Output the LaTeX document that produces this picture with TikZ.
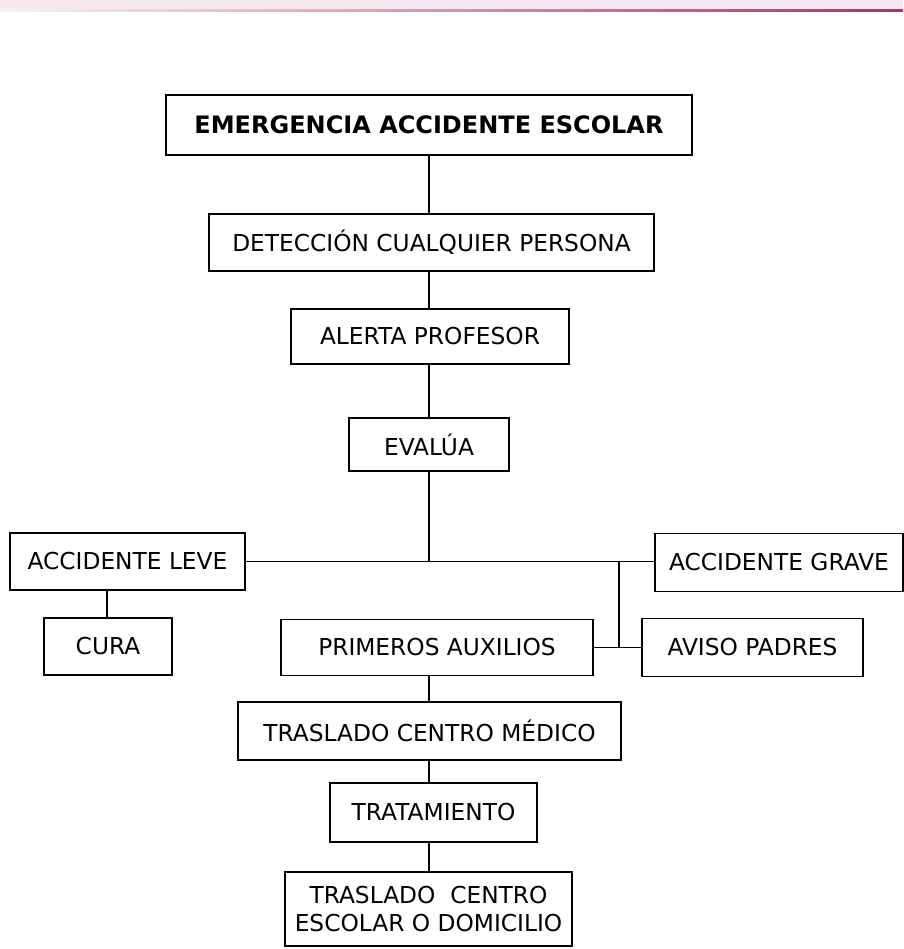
\documentclass[tikz,border=0pt]{standalone}
\usepackage{fontspec}
\setmainfont{DejaVu Sans}
\begin{document}
\begin{tikzpicture}[x=1pt,y=-1pt,
  box/.style={draw=black,line width=1.6pt,rectangle,inner sep=0pt,align=center,
    font=\fontsize{23.3}{28}\selectfont},
  conn/.style={draw=black,line width=1.6pt}]
\useasboundingbox (0,0) rectangle (903,949);
% top band
\fill[fill={rgb,255:red,246;green,234;blue,240}] (0,0) rectangle (903,10);
\shade[left color={rgb,255:red,250;green,240;blue,245},right color={rgb,255:red,160;green,56;blue,106}] (0,9.5) rectangle (903,11.5);
% nodes
\node[box,minimum width=526pt,minimum height=60pt,font=\fontsize{24}{28}\selectfont\bfseries] (emerg) at (429,125) {EMERGENCIA ACCIDENTE ESCOLAR};
\node[box,minimum width=445pt,minimum height=57pt] (detec) at (431.5,242.5) {DETECCIÓN CUALQUIER PERSONA};
\node[box,minimum width=278pt,minimum height=55pt] (alerta) at (430,336.5) {ALERTA PROFESOR};
\node[box,minimum width=160pt,minimum height=53pt] (eval) at (429,444.5) {EVALÚA};
\node[box,minimum width=235pt,minimum height=57pt] (leve) at (127.5,561.5) {ACCIDENTE LEVE};
\node[box,minimum width=128pt,minimum height=57pt] (cura) at (108,646.5) {CURA};
\node[box,minimum width=248pt,minimum height=58pt] (grave) at (779,562.5) {ACCIDENTE GRAVE};
\node[box,minimum width=312pt,minimum height=56pt] (prim) at (437,647.5) {PRIMEROS AUXILIOS};
\node[box,minimum width=221pt,minimum height=58pt] (aviso) at (752.5,647.5) {AVISO PADRES};
\node[box,minimum width=383pt,minimum height=58pt] (med) at (429.5,731) {TRASLADO CENTRO MÉDICO};
\node[box,minimum width=207pt,minimum height=59pt] (trat) at (433.5,812.5) {TRATAMIENTO};
\node[box,minimum width=287pt,minimum height=74pt] (final) at (428.5,909) {TRASLADO\ \ CENTRO\\ESCOLAR O DOMICILIO};
% junction coordinates
\coordinate (j) at (429,561.5);
\coordinate (b) at (619,561.5);
% connectors
\draw[conn] (emerg.south) -- (emerg.south |- detec.north);
\draw[conn] (eval.south |- detec.south) -- (eval.south |- alerta.north);
\draw[conn] (eval.north |- alerta.south) -- (eval.north);
\draw[conn] (eval.south) -- (j);
\draw[conn] (leve.east) -- (leve.east -| grave.west);
\draw[conn] (b) -- (b |- aviso.west);
\draw[conn] (prim.east) -- (aviso.west);
\draw[conn] (cura.north -| 107,0) -- (107,590);
\draw[conn] (med.north -| eval.south) -- (eval.south |- prim.south);
\draw[conn] (trat.north -| eval.south) -- (eval.south |- med.south);
\draw[conn] (final.north -| eval.south) -- (eval.south |- trat.south);
\end{tikzpicture}
\end{document}
